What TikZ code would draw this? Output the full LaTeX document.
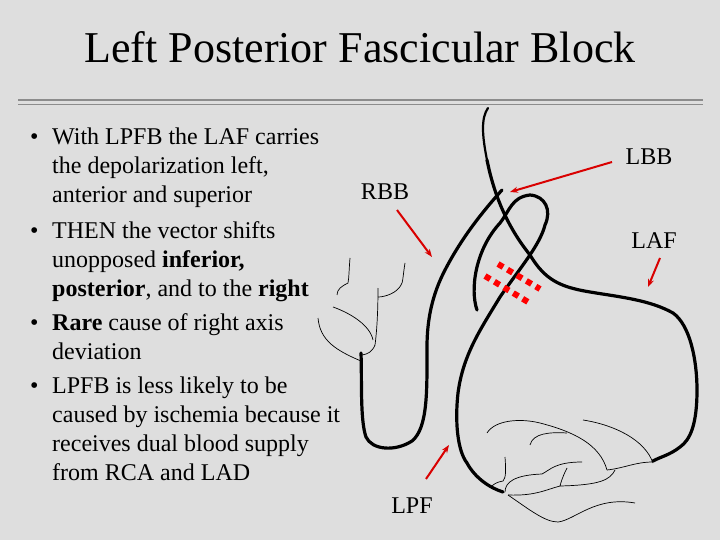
\documentclass[tikz,border=0pt]{standalone}
\usepackage{fontspec}
\setmainfont{Liberation Serif}
\begin{document}
\begin{tikzpicture}[x=1pt,y=-1pt,
  thick line/.style={line width=3.2pt,line cap=round,line join=round},
  thin line/.style={line width=0.7pt},
  red arrow/.style={red!85!black,line width=2pt,-{Stealth[length=8pt,width=6pt]}},
  body/.style={anchor=base west,inner sep=0,font=\fontsize{24}{28}\selectfont},
  lab/.style={inner sep=0,font=\fontsize{24}{28}\selectfont}]
\usetikzlibrary{arrows.meta}
\fill[fill={rgb,255:red,222;green,222;blue,222}] (0,0) rectangle (720,540);
\useasboundingbox (0,0) rectangle (720,540);
\node[inner sep=0,font=\fontsize{44}{50}\selectfont] (title) at (360,47) {Left Posterior Fascicular Block};
\draw[gray!90,line width=1.6pt] (18,100) -- (703,100);
\draw[gray!90,line width=1.6pt] (18,104.5) -- (703,104.5);
% bullets
\foreach \y in {145,238,330,393} {\node[body] at (30,\y) {•};}
\node[body] (l1) at (52,145) {With LPFB the LAF carries};
\node[body] (l2) at (52,174) {the depolarization left,};
\node[body] (l3) at (52,203) {anterior and superior};
\node[body] (l4) at (52,238) {THEN the vector shifts};
\node[body] (l5) at (52,267) {unopposed \textbf{inferior,}};
\node[body] (l6) at (52,296) {\textbf{posterior}, and to the \textbf{right}};
\node[body] (l7) at (52,330) {\textbf{Rare} cause of right axis};
\node[body] (l8) at (52,359) {deviation};
\node[body] (l9) at (52,393) {LPFB is less likely to be};
\node[body] (l10) at (52,422) {caused by ischemia because it};
\node[body] (l11) at (52,451) {receives dual blood supply};
\node[body] (l12) at (52,480) {from RCA and LAD};
% labels
\node[lab] (lbb) at (649,157) {LBB};
\node[lab] (rbb) at (385,192) {RBB};
\node[lab] (laf) at (654,241) {LAF};
\node[lab] (lpf) at (412,506) {LPF};
\coordinate (lbbS) at (612,162); \coordinate (lbbE) at (510,192);
\coordinate (rbbS) at (397,210); \coordinate (rbbE) at (432,257);
\coordinate (lafS) at (660,258); \coordinate (lafE) at (648,287);
\coordinate (lpfS) at (426,479); \coordinate (lpfE) at (449,445);
\draw[red arrow] (lbbS) -- (lbbE);
\draw[red arrow] (rbbS) -- (rbbE);
\draw[red arrow] (lafS) -- (lafE);
\draw[red arrow] (lpfS) -- (lpfE);
% thick conduction lines
\draw[line width=2.2pt,line cap=round] (488,108) .. controls (481,118) and (482,135) .. (487,160);
\draw[thick line] (487,160) .. controls (495,200) and (510,230) .. (530,255)
  .. controls (545,280) and (560,287) .. (590,292)
  .. controls (620,297) and (650,300) .. (673,313)
  .. controls (690,325) and (697,360) .. (697,390)
  .. controls (697,425) and (690,440) .. (680,447)
  .. controls (670,455) and (660,457) .. (653,461);
\draw[thick line] (477,310) .. controls (470,290) and (475,250) .. (500,223)
  .. controls (510,210) and (512,197) .. (530,195)
  .. controls (545,196) and (552,210) .. (545,225)
  .. controls (540,245) and (520,268) .. (500,297)
  .. controls (480,330) and (463,355) .. (458,393)
  .. controls (455,420) and (457,450) .. (467,463)
  .. controls (475,478) and (490,488) .. (503,492);
\draw[thick line] (361,353) .. controls (362,380) and (360,420) .. (366,437)
  .. controls (372,450) and (395,452) .. (412,441)
  .. controls (428,428) and (427,390) .. (427,347)
  .. controls (427,320) and (432,295) .. (445,270)
  .. controls (458,245) and (475,220) .. (502,190);
% red dashed block
\draw[red,line width=6pt,dash pattern=on 6pt off 5pt] (498,264) -- (540,289);
\draw[red,line width=6pt,dash pattern=on 6pt off 5pt] (485,276) -- (528,302);
% thin branches left
\draw[thin line] (350,258) .. controls (349,270) and (349,278) .. (348,283) .. controls (342,286) and (337,289) .. (337,295);
\draw[thin line] (405,263) .. controls (403,275) and (403,283) .. (401,285) .. controls (397,293) and (385,297) .. (378,297);
\draw[thin line] (378,288) .. controls (378,310) and (377,330) .. (375,345) .. controls (372,352) and (368,354) .. (362,355);
\draw[thin line] (333,307) .. controls (350,313) and (370,325) .. (373,340);
\draw[thin line] (318,318) .. controls (320,340) and (335,350) .. (361,361);
% thin branches bottom
\draw[thin line] (487,433) .. controls (495,420) and (520,418) .. (540,423) .. controls (575,432) and (600,445) .. (607,470);
\draw[thin line] (530,445) .. controls (533,433) and (550,432) .. (567,433);
\draw[thin line] (583,420) .. controls (615,425) and (645,440) .. (653,463);
\draw[thin line] (607,470) .. controls (625,468) and (635,462) .. (653,462);
\draw[thin line] (615,470) .. controls (610,480) and (600,485) .. (560,486) .. controls (562,478) and (565,472) .. (567,468);
\draw[thin line] (560,486) .. controls (545,490) and (535,496) .. (508,495);
\draw[thin line] (505,492) .. controls (505,482) and (515,475) .. (542,474) .. controls (550,470) and (555,462) .. (582,462);
\draw[thin line] (505,457) .. controls (506,470) and (506,478) .. (503,481) .. controls (497,482) and (494,484) .. (492,486);
\draw[thin line] (508,495) .. controls (530,510) and (545,522) .. (558,522) .. controls (575,520) and (595,496) .. (635,503);
\end{tikzpicture}
\end{document}
